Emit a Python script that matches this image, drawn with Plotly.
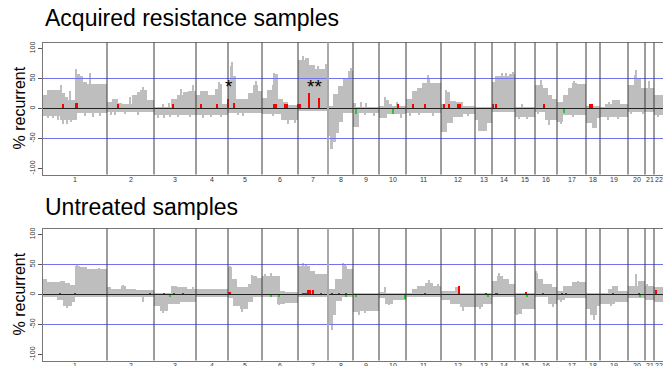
import plotly.graph_objects as go

# ---------------- data ----------------
CHROMS = [str(i) for i in range(1, 23)]
# chromosome start positions (genome index units), last value = genome end
CHR_STARTS = [0, 64, 111, 153, 185, 219, 255, 285, 310, 336, 363, 398,
              432, 449, 472, 492, 514, 543, 557, 585, 602, 611, 620]

# Acquired resistance: gains (step edges + values, %)
AR_GAIN_EDGES = [0, 4, 17, 22, 25, 32, 37, 40, 44,
                 64, 69, 75, 79, 89, 94, 97, 104,
                 111, 128, 134, 140, 145,
                 153, 157, 165, 172, 179,
                 185, 187, 190, 193, 205, 210, 215,
                 219, 224, 229, 232, 235, 240, 245,
                 255, 262, 266, 272,
                 285, 290, 295, 300, 305,
                 310, 313,
                 336, 341, 346, 349,
                 363, 369, 374, 379, 384, 387,
                 398, 404, 407, 413, 420,
                 432,
                 449, 452, 466,
                 472,
                 492, 500, 505, 509,
                 514, 520, 525, 529, 534,
                 543,
                 557, 562, 569, 577,
                 585, 591, 594, 598,
                 602,
                 611,
                 620]
AR_GAIN_VALS = [24, 32, 26, 20, 15, 58, 55, 45, 42,
                11, 16, 10, 8, 24, 28, 32, 15,
                3, 16, 24, 28, 30,
                24, 30, 24, 33, 8,
                45, 72, 55, 16, 27, 40, 30,
                19, 32, 40, 58, 16, 11, 7,
                82, 85, 73, 67,
                5, 25, 38, 50, 63,
                10, 4,
                5, 15, 8, 5,
                16, 30, 35, 43, 50, 43,
                8, 28, 13, 11, 5,
                2,
                45, 55, 58,
                3,
                40, 35, 24, 16,
                11, 24, 35, 43, 41,
                5,
                4, 8, 15, 8,
                40, 56, 51, 35,
                35,
                24]
# Acquired resistance: losses
AR_LOSS_EDGES = [0, 17, 34, 64, 111, 153, 185, 219, 238, 255,
                 285, 287, 290, 293, 296, 300, 310, 316, 336, 344, 363,
                 398, 404, 410, 420, 432, 435, 444, 449, 472, 492, 502,
                 514, 520, 543, 549, 554, 557, 585, 602, 611, 620]
AR_LOSS_VALS = [-11, -18, -7, -5, -10, -10, -7, -8, -18, -3,
                -45, -66, -55, -40, -22, -6, -30, -6, -15, -8, -7,
                -38, -24, -13, -8, -19, -37, -24, -5, -14, -5, -19,
                -22, -10, -24, -32, -15, -13, -5, -5, -10]
# Acquired resistance: thin single-probe spikes
AR_SPIKE_X = [18, 27, 33, 47, 87, 100, 120, 126, 138, 150, 176, 178, 189,
              213, 231, 260, 275, 283, 308, 318, 323, 342, 354, 385, 403,
              406, 459, 463, 470, 479, 498, 531, 566, 593, 606,
              5, 10, 15, 20, 24, 28, 42, 50, 57, 68, 72, 82, 95, 115, 121,
              127, 135, 147, 160, 168, 178, 195, 200, 230, 245, 252, 322,
              331, 358, 367, 376, 390, 425, 476, 484, 495, 506, 518, 530,
              565, 575, 588, 600, 615]
AR_SPIKE_Y = [40, 30, 66, 60, 20, 36, 8, 10, 33, 40, 45, 42, 78,
              46, 60, 88, 72, 75, 68, 12, 10, 20, 12, 56, 32,
              22, 60, 60, 62, 8, 48, 47, 12, 65, 46,
              -15, -15, -18, -25, -25, -22, -12, -14, -12, -10, -10, -9, -10,
              -15, -15, -13, -14, -14, -15, -14, -14, -10, -12, -12, -25, -24,
              -10, -12, -15, -12, -10, -12, -12, -16, -17, -9, -26, -25, -14,
              -18, -16, -8, -8, -13]
# Acquired resistance: significant gains (red) and losses (green)
AR_RED_X = [19.7, 33.7, 74.7, 129.7, 158, 173.7, 185.3, 191.3, 232, 243,
            256, 266, 276, 355.3, 370.3, 381.7, 401.3, 406.3, 415.8, 449.7,
            453, 500.7, 547.5]
AR_RED_W = [0.8, 1.8, 0.8, 0.8, 2.5, 0.8, 1.2, 0.8, 4, 3.5, 3.5, 1, 1, 0.8,
            0.8, 0.8, 0.8, 0.8, 4, 0.8, 1.2, 0.8, 4]
AR_RED_Y = [9, 10, 8, 8, 9, 8, 17, 10, 9, 8, 9, 26, 18, 9, 9, 9, 9, 9, 9, 9,
            9, 9, 9]
AR_GREEN_X = [313, 350.3, 521.3]
AR_GREEN_W = [2, 1.5, 0.7]
AR_GREEN_Y = [-8, -8, -6]

# Untreated: gains
UT_GAIN_EDGES = [0, 4, 17, 22, 27, 32, 37, 44, 52,
                 64, 68, 78, 83, 93,
                 111, 128, 134, 144,
                 153,
                 185, 189, 194, 205, 210, 214,
                 219, 237, 242,
                 255, 267, 272,
                 285, 292, 299, 304,
                 310,
                 336, 341, 343,
                 363, 369, 374, 382, 390,
                 398, 412, 417,
                 432,
                 449, 454, 460, 466,
                 472,
                 492, 495, 500, 509,
                 514, 520, 529,
                 543,
                 557, 565, 569, 575,
                 585, 595,
                 602,
                 611,
                 620]
UT_GAIN_VALS = [26, 22, 24, 20, 16, 49, 46, 44, 43,
                13, 10, 15, 10, 9,
                2, 15, 13, 10,
                10,
                46, 26, 13, 18, 32, 29,
                32, 7, 5,
                49, 40, 35,
                10, 26, 48, 43,
                3,
                5, 13, 2,
                4, 10, 15, 20, 15,
                7, 13, 3,
                3,
                24, 32, 26, 18,
                3,
                37, 26, 18, 13,
                7, 15, 21,
                3,
                4, 10, 15, 7,
                15, 24,
                15,
                13]
# Untreated: losses
UT_LOSS_EDGES = [0, 14, 20, 29, 32, 64, 111, 117, 125, 137, 153,
                 185, 190, 197, 205, 210, 219, 234, 242, 255,
                 285, 288, 290, 293, 299, 310, 317, 336, 342, 350, 363,
                 398, 407, 417, 432, 440, 449, 472, 479, 492, 505,
                 514, 522, 543, 547, 554, 557, 572, 585, 602, 611, 620]
UT_LOSS_VALS = [-3, -9, -18, -12, -2, -2, -18, -26, -15, -12, -4,
                -5, -18, -23, -12, -3, -3, -15, -13, -2,
                -50, -59, -34, -10, -3, -29, -26, -5, -15, -9, -3,
                -9, -15, -20, -20, -15, -3, -31, -23, -3, -15,
                -9, -5, -23, -34, -18, -15, -12, -5, -8, -12]
UT_SPIKE_X = [34, 56, 80, 150, 187, 209, 222, 228, 260, 263, 300, 302, 342,
              386, 395, 456, 493, 535, 593, 604,
              24, 100, 120, 199, 236, 289, 316, 322, 346, 420, 437, 474,
              510, 518, 551, 568]
UT_SPIKE_Y = [51, 45, 17, 13, 48, 33, 35, 36, 54, 52, 54, 50, 14,
              25, 18, 37, 40, 23, 35, 19,
              -21, -12, -30, -28, -17, -59, -33, -30, -17, -26, -23, -33,
              -20, -11, -42, -18]
UT_RED_X = [17, 32, 107, 121, 131, 140, 186, 261, 265, 267, 270, 278, 289,
            296, 303, 382, 416, 443, 453, 483, 500, 519, 523, 570, 596, 613]
UT_RED_W = [0.8, 0.8, 0.8, 0.8, 0.8, 0.8, 3, 5, 0.7, 0.7, 0.7, 0.7, 0.7,
            0.7, 0.7, 1.5, 2.5, 1.5, 3, 0.8, 0.8, 0.8, 0.8, 0.8, 0.8, 0.8]
UT_RED_Y = [3, 3, 3, 3, 3, 3, 5, 3, 8, 8, 8, 3, 3, 3, 3, 3, 15, 3, 3, 5, 3,
            3, 3, 3, 3, 8]
UT_GREEN_X = [127, 228, 236, 303, 313, 362, 445, 484, 597]
UT_GREEN_W = [0.8] * 9
UT_GREEN_Y = [-2, -2, -2, -2, -2, -6, -2, -2, -2]

Y_TICKS = [-100, -50, 0, 50, 100]
THRESH = 50

# ---------------- styling ----------------
GRAY = "#BEBEBE"
RED = "#FF0000"
GREEN = "#22CC22"
BLUE = "#7373EC"
FONT = "Liberation Sans"
W, H = 663, 366
ML = 43
MR = 0
PANEL_PX = [(42.5, 174.5), (228.5, 360.5)]

fig = go.Figure()


def add_bars(xs, ws, ys, color, ax):
    fig.add_trace(go.Bar(x=xs, y=ys, width=ws, base=0,
                         marker=dict(color=color, line=dict(width=0)),
                         xaxis="x" + ax, yaxis="y" + ax,
                         hoverinfo="skip", showlegend=False))


def add_steps(edges, vals, color, ax):
    xs = [(a + b) / 2 for a, b in zip(edges[:-1], edges[1:])]
    ws = [b - a for a, b in zip(edges[:-1], edges[1:])]
    add_bars(xs, ws, vals, color, ax)


panels = [
    ("", AR_GAIN_EDGES, AR_GAIN_VALS, AR_LOSS_EDGES, AR_LOSS_VALS,
     AR_SPIKE_X, AR_SPIKE_Y, AR_RED_X, AR_RED_W, AR_RED_Y,
     AR_GREEN_X, AR_GREEN_W, AR_GREEN_Y),
    ("2", UT_GAIN_EDGES, UT_GAIN_VALS, UT_LOSS_EDGES, UT_LOSS_VALS,
     UT_SPIKE_X, UT_SPIKE_Y, UT_RED_X, UT_RED_W, UT_RED_Y,
     UT_GREEN_X, UT_GREEN_W, UT_GREEN_Y),
]

shapes = []
for (ax, ge, gv, le, lv, sx, sy, rx, rw, ry, gx, gw, gy) in panels:
    add_steps(ge, gv, GRAY, ax)
    add_steps(le, lv, GRAY, ax)
    add_bars(sx, [0.8] * len(sx), sy, GRAY, ax)
    add_bars(rx, rw, ry, RED, ax)
    add_bars(gx, gw, gy, GREEN, ax)
    xr = "x" + ax
    yr = "y" + ax
    for v in (THRESH, -THRESH):
        shapes.append(dict(type="line", xref=xr + " domain", yref=yr,
                           x0=0, x1=1, y0=v, y1=v,
                           line=dict(color=BLUE, width=1)))
    shapes.append(dict(type="line", xref=xr + " domain", yref=yr,
                       x0=0, x1=1, y0=0, y1=0,
                       line=dict(color="#222222", width=1)))
    for i, b in enumerate(CHR_STARTS[1:-1]):
        is78 = (i == 6)
        shapes.append(dict(type="line", xref=xr, yref=yr + " domain",
                           x0=b, x1=b, y0=0, y1=1,
                           line=dict(color="#AAAAAA" if is78 else "#3A3A3A",
                                     width=2 if is78 else 1)))

centers = [(a + b) / 2 for a, b in zip(CHR_STARTS[:-1], CHR_STARTS[1:])]

xa = dict(range=[0, 620], showticklabels=False, ticks="", automargin=False,
          showgrid=False, zeroline=False, showline=True, mirror=True,
          linecolor="#777777", linewidth=1)
ya = dict(range=[-110, 110], tickvals=Y_TICKS, automargin=False,
          ticktext=[str(t) for t in Y_TICKS], tickangle=-90,
          ticks="outside", ticklen=4, tickcolor="#555555",
          showgrid=False, zeroline=False, showline=True, mirror=True,
          linecolor="#777777", linewidth=1,
          tickfont=dict(size=7, color="#333333", family=FONT))


def py(p):
    return 1 - p / H


def px_(p):
    return (p - ML) / (W - ML - MR)


fig.update_layout(
    width=W, height=H,
    margin=dict(l=ML, r=MR, t=0, b=0, autoexpand=False),
    paper_bgcolor="white", plot_bgcolor="white",
    barmode="overlay", bargap=0,
    showlegend=False,
    font=dict(family=FONT, color="#000000"),
    xaxis=dict(xa, domain=[0, 1], anchor="y"),
    yaxis=dict(ya, domain=[py(PANEL_PX[0][1]), py(PANEL_PX[0][0])], anchor="x"),
    xaxis2=dict(xa, domain=[0, 1], anchor="y2"),
    yaxis2=dict(ya, domain=[py(PANEL_PX[1][1]), py(PANEL_PX[1][0])], anchor="x2"),
    shapes=shapes,
)

ann = []
ann.append(dict(text="Acquired resistance samples", xref="paper", yref="paper",
                x=0, y=py(33), xanchor="left", yanchor="bottom",
                showarrow=False, font=dict(size=23, family=FONT)))
ann.append(dict(text="Untreated samples", xref="paper", yref="paper",
                x=0, y=py(222), xanchor="left", yanchor="bottom",
                showarrow=False, font=dict(size=23, family=FONT)))
for (top, bot) in PANEL_PX:
    ann.append(dict(text="% recurrent", xref="paper", yref="paper",
                    x=px_(19), y=py((top + bot) / 2),
                    xanchor="center", yanchor="middle",
                    textangle=-90, showarrow=False,
                    font=dict(size=16, family=FONT)))
for ax, (top, bot) in zip(("x", "x2"), PANEL_PX):
    for c, lab in zip(centers, CHROMS):
        ann.append(dict(text=lab, xref=ax, yref="paper", x=c, y=py(bot - 1),
                        xanchor="center", yanchor="top", showarrow=False,
                        font=dict(size=7, color="#333333", family=FONT)))
ann.append(dict(text="*", xref="x", yref="y", x=186, y=37, showarrow=False,
                font=dict(size=19, family=FONT)))
ann.append(dict(text="**", xref="x", yref="y", x=271, y=37, showarrow=False,
                font=dict(size=19, family=FONT)))
fig.update_layout(annotations=ann)

fig.write_html(
    "out.html",
    config={"displayModeBar": False},
    post_script="document.body.style.margin='0px';"
                "document.body.style.overflow='hidden';",
)
